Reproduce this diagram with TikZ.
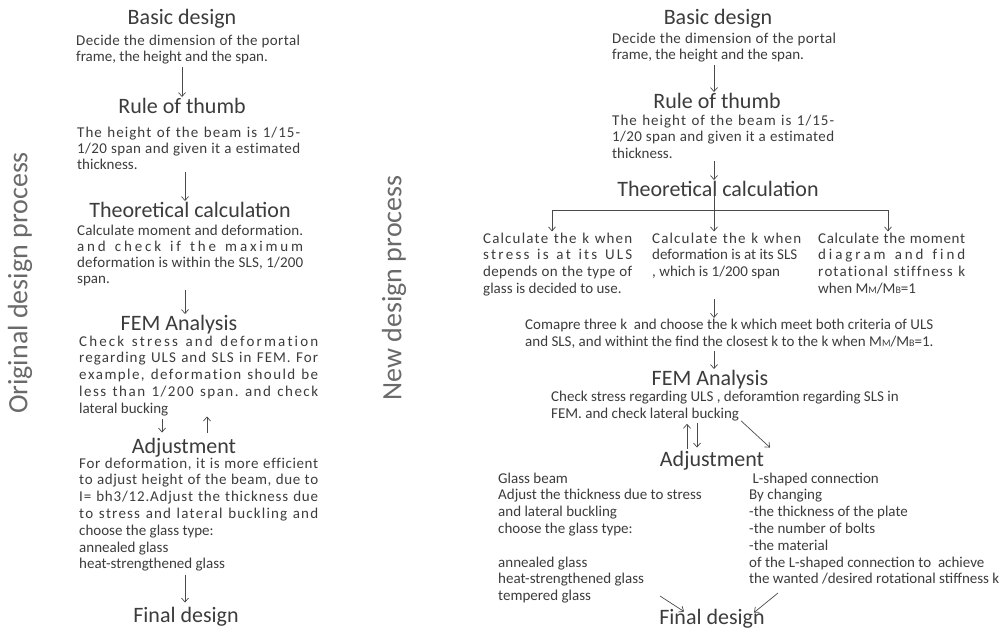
\documentclass[tikz,border=0pt]{standalone}
\usepackage{fontspec}
\setmainfont{Carlito}
\usetikzlibrary{arrows.meta,calc}
\definecolor{txt}{HTML}{3C3C3C}
\definecolor{sidec}{HTML}{6A6A6A}
\definecolor{arrc}{HTML}{4A4A4A}

\ExplSyntaxOn
\tl_new:N \l_rs_tl
\NewDocumentCommand\spreadln{mm}{
  \tl_set:Nn \l_rs_tl {#2}
  \tl_replace_all:Nnn \l_rs_tl {~} {\rsspace}
  \hbox to #1 {\tl_map_inline:Nn \l_rs_tl {##1\hskip 0pt plus 1fil\relax}\unskip}
}
\ExplSyntaxOff
\newcommand\rsspace{\hskip 0.226em minus 0.05em\relax}
\newcommand\pl[2]{\vtop{\baselineskip=#1pt\lineskiplimit=-30pt\lineskip=0pt #2}}
\newcommand\nl[1]{\hbox{#1}}
\newcommand\smc[1]{{\fontsize{10}{10}\selectfont #1}}

\tikzset{
  body/.style={font=\fontsize{15}{16}\selectfont, text=txt, inner sep=0pt, anchor=base west},
  ttl/.style={font=\fontsize{22}{26}\selectfont, text=txt, inner sep=0pt, anchor=base},
  sidelbl/.style={font=\fontsize{28}{32}\selectfont, text=sidec, rotate=90, inner sep=0pt},
  arr/.style={draw=arrc, line width=0.7pt, -{Straight Barb[length=4pt,width=7pt]}, shorten <=3pt, shorten >=0.5pt},
  ln/.style={draw=arrc, line width=0.7pt}
}

\begin{document}
\begin{tikzpicture}[x=1pt,y=-1pt]
\fill[white] (0,0) rectangle (1003,630);
\useasboundingbox (0,0) rectangle (1003,630);

% side labels
\node[sidelbl] (sideL) at (20,283) {Original design process};
\node[sidelbl] (sideR) at (394,288) {New design process};

% ---------------- left column ----------------
\coordinate (AX) at (185,0);
\node[ttl] (L0) at (182,24) {Basic design};
\node[body] (L0t) at (76,45) {\pl{16}{\spreadln{224pt}{Decide the dimension of the portal}\nl{frame, the height and the span.}}};
\node[ttl] (L1) at (182,113) {Rule of thumb};
\node[body] (L1t) at (77,137) {\pl{16}{\spreadln{223pt}{The height of the beam is 1/15-}\spreadln{223pt}{1/20 span and given it a estimated}\nl{thickness.}}};
\node[ttl] (L2) at (190,217) {Theoretical calculation};
\node[body] (L2t) at (77,235) {\pl{16.3}{\spreadln{226pt}{Calculate moment and deformation.}\spreadln{226pt}{and check if the maximum}\spreadln{226pt}{deformation is within the SLS, 1/200}\nl{span.}}};
\node[ttl] (L3) at (179,330) {FEM Analysis};
\node[body] (L3t) at (79,346) {\pl{16.8}{\spreadln{239pt}{Check stress and deformation}\spreadln{239pt}{regarding ULS and SLS in FEM. For}\spreadln{239pt}{example, deformation should be}\spreadln{239pt}{less than 1/200 span. and check}\nl{lateral bucking}}};
\node[ttl] (L4) at (184,453) {Adjustment};
\node[body] (L4t) at (79,468) {\pl{16.8}{\spreadln{239pt}{For deformation, it is more efficient}\spreadln{239pt}{to adjust height of the beam, due to}\spreadln{239pt}{I= bh3/12.Adjust the thickness due}\spreadln{239pt}{to stress and lateral buckling and}\nl{choose the glass type:}\nl{annealed glass}\nl{heat-strengthened glass}}};
\node[ttl] (L5) at (186,622) {Final design};

\draw[arr] (L0t.south -| L1) -- (L1.north);
\draw[arr] (L1t.south -| AX) -- (L2.north -| AX);
\draw[arr] (L2t.south -| AX) -- (L3.north -| AX);
\draw[arr, shorten >=5pt] ($(L3t.south -| L4.north)+(-22,0)$) -- ($(L4.north)+(-22,0)$);
\draw[arr, shorten <=5pt] ($(L4.north)+(23,0)$) -- ($(L3t.south -| L4.north)+(23,0)$);
\draw[arr, shorten >=4pt] (L4t.south -| AX) -- (L5.north -| AX);

% ---------------- right column ----------------
\coordinate (J) at (714,210);
\coordinate (JL) at (552,210);
\coordinate (JR) at (888,210);
\node[ttl] (R0) at (718,24) {Basic design};
\node[body] (R0t) at (612,43) {\pl{16}{\spreadln{224pt}{Decide the dimension of the portal}\nl{frame, the height and the span.}}};
\node[ttl] (R1) at (717,108) {Rule of thumb};
\node[body] (R1t) at (612,125) {\pl{16.5}{\spreadln{222pt}{The height of the beam is 1/15-}\spreadln{222pt}{1/20 span and given it a estimated}\nl{thickness.}}};
\node[ttl] (R2) at (718,196) {Theoretical calculation};
\node[body] (C1) at (483,243) {\pl{16.8}{\spreadln{149pt}{Calculate the k when}\spreadln{149pt}{stress is at its ULS}\spreadln{149pt}{depends on the type of}\nl{glass is decided to use.}}};
\node[body] (C2) at (652,243) {\pl{16.8}{\spreadln{149pt}{Calculate the k when}\nl{deformation is at its SLS}\nl{, which is 1/200 span}}};
\node[body] (C3) at (818,243) {\pl{16.8}{\spreadln{147pt}{Calculate the moment}\spreadln{147pt}{diagram and find}\spreadln{147pt}{rotational stiffness k}\nl{when M\smc{M}/M\smc{B}=1}}};
\node[body] (CMP) at (525,329) {\pl{17}{\nl{Comapre three k\ \ and choose the k which meet both criteria of ULS}\nl{and SLS, and withint the find the closest k to the k when M\smc{M}/M\smc{B}=1.}}};
\node[ttl] (R3) at (710,385) {FEM Analysis};
\node[body] (R3t) at (551,401) {\pl{17}{\nl{Check stress regarding ULS , deforamtion regarding SLS in}\nl{FEM. and check lateral bucking}}};
\node[ttl] (R4) at (712,466) {Adjustment};
\node[body] (GL) at (498,483) {\pl{16.8}{\nl{Glass beam}\nl{Adjust the thickness due to stress}\nl{and lateral buckling}\nl{choose the glass type:}\nl{}\nl{annealed glass}\nl{heat-strengthened glass}\nl{tempered glass}}};
\node[body] (LC) at (749,483) {\pl{16.8}{\nl{\ L-shaped connection}\nl{By changing}\nl{-the thickness of the plate}\nl{-the number of bolts}\nl{-the material}\nl{of the L-shaped connection to\ \ achieve}\nl{the wanted /desired rotational stiffness k}}};
\node[ttl] (R5) at (712,624) {Final design};
\coordinate (g1) at (660,596);
\coordinate (g2) at (778,593);

\draw[arr] (R0t.south -| J) -- (R1.north -| J);
\draw[arr] (R1t.south -| J) -- (R2.north -| J);
\draw[ln] (R2.south -| J) -- (J);
\draw[ln] (JL) -- (JR);
\draw[arr, shorten <=0pt, shorten >=1pt] (JL) -- (JL |- C1.north);
\draw[arr, shorten <=0pt, shorten >=1pt] (J) -- (J |- C2.north);
\draw[arr, shorten <=0pt, shorten >=1pt] (JR) -- (JR |- C3.north);
\draw[arr] (C1.south -| J) -- (CMP.north -| J);
\draw[arr] (CMP.south -| J) -- (R3.north -| J);
\draw[arr, shorten <=2pt, shorten >=3pt] ($(R4.north)+(-25,0)$) -- ($(R3t.south -| R4.north)+(-25,0)$);
\draw[arr, shorten <=2pt, shorten >=3pt] ($(R3t.south -| R4.north)+(-15,0)$) -- ($(R4.north)+(-15,0)$);
\draw[arr, shorten <=0pt, shorten >=0pt] ($(R3t.south -| R4.north)+(29,0)$) -- ($(R4.north)+(58,-3)$);
\draw[arr, shorten <=0pt, shorten >=0pt] (g1) -- ($(R5.north)+(-28,3)$);
\draw[arr, shorten <=0pt, shorten >=0pt] (g2) -- ($(R5.north)+(42,4)$);
\end{tikzpicture}
\end{document}
